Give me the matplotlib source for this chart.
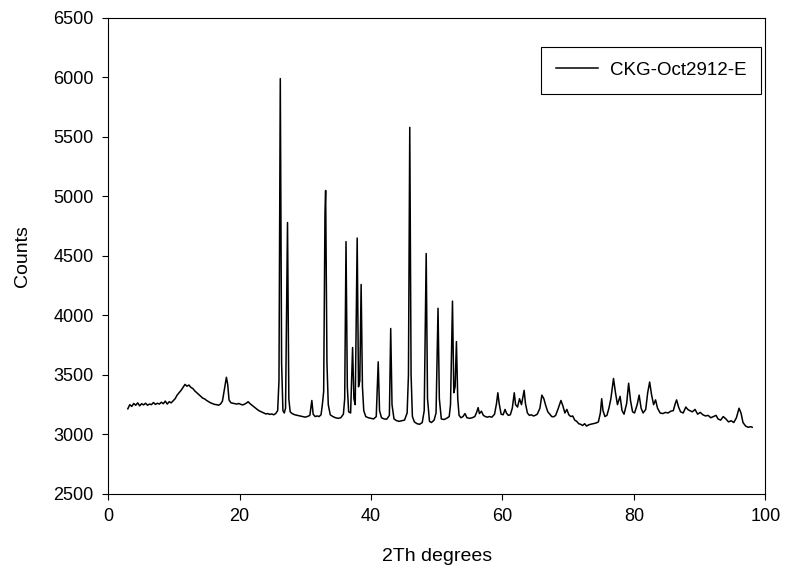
import matplotlib
matplotlib.use("Agg")
import matplotlib.pyplot as plt

plt.rcParams['font.family'] = ['Liberation Sans', 'DejaVu Sans']

# XRD scan (2-theta, counts)
two_theta = [
    3.0, 3.3, 3.6, 3.9, 4.2, 4.5, 4.8, 5.1, 5.4, 5.7, 6.0, 6.3, 6.6, 6.9, 7.2, 7.5, 7.8, 8.1, 8.4, 8.7,
    9.0, 9.3, 9.6, 9.9, 10.2, 10.5, 10.8, 11.1, 11.4, 11.7, 12.0, 12.3, 12.6, 12.9, 13.2, 13.5, 13.8,
    14.1, 14.4, 14.7, 15.0, 15.3, 15.6, 15.9, 16.2, 16.5, 16.8, 17.1, 17.4, 17.7, 18.0, 18.2, 18.4,
    18.7, 19.0, 19.3, 19.6, 19.9, 20.2, 20.5, 20.8, 21.1, 21.3, 21.6, 21.9, 22.2, 22.5, 22.8, 23.1,
    23.4, 23.7, 24.0, 24.3, 24.6, 24.9, 25.2, 25.5, 25.8, 26.0, 26.2, 26.4, 26.6, 26.8, 27.0, 27.3,
    27.5, 27.7, 28.0, 28.4, 28.8, 29.2, 29.6, 30.0, 30.4, 30.7, 31.0, 31.2, 31.5, 31.8, 32.1, 32.4,
    32.6, 32.8, 33.0, 33.1, 33.3, 33.5, 33.8, 34.2, 34.6, 35.0, 35.4, 35.8, 36.0, 36.2, 36.4, 36.6,
    36.9, 37.2, 37.4, 37.6, 37.9, 38.1, 38.3, 38.5, 38.7, 38.9, 39.2, 39.6, 40.0, 40.4, 40.8, 41.1,
    41.3, 41.6, 42.0, 42.4, 42.8, 43.0, 43.2, 43.5, 43.9, 44.3, 44.7, 45.1, 45.5, 45.7, 45.9, 46.1,
    46.3, 46.6, 47.0, 47.4, 47.8, 48.1, 48.4, 48.6, 48.9, 49.2, 49.6, 49.9, 50.2, 50.4, 50.7, 51.1,
    51.5, 51.9, 52.1, 52.4, 52.6, 52.8, 53.0, 53.2, 53.4, 53.7, 54.0, 54.3, 54.6, 55.0, 55.4, 55.8,
    56.1, 56.3, 56.5, 56.8, 57.1, 57.4, 57.7, 58.0, 58.4, 58.8, 59.1, 59.3, 59.5, 59.8, 60.1, 60.4,
    60.6, 60.9, 61.2, 61.5, 61.8, 62.0, 62.3, 62.6, 62.9, 63.3, 63.5, 63.8, 64.1, 64.4, 64.7, 65.0,
    65.3, 65.7, 66.0, 66.3, 66.6, 66.9, 67.2, 67.5, 67.8, 68.1, 68.5, 68.9, 69.2, 69.5, 69.8, 70.1,
    70.4, 70.7, 71.0, 71.3, 71.6, 71.9, 72.2, 72.5, 72.8, 73.1, 73.4, 73.8, 74.2, 74.6, 74.9, 75.1,
    75.3, 75.6, 75.9, 76.2, 76.5, 76.9, 77.2, 77.5, 77.9, 78.2, 78.5, 78.9, 79.2, 79.5, 79.8, 80.1,
    80.5, 80.8, 81.1, 81.4, 81.8, 82.1, 82.4, 82.7, 83.0, 83.3, 83.6, 84.0, 84.4, 84.8, 85.2, 85.6,
    86.0, 86.3, 86.5, 86.8, 87.1, 87.5, 87.9, 88.2, 88.5, 88.9, 89.3, 89.7, 90.1, 90.5, 90.9, 91.3,
    91.7, 92.1, 92.5, 92.8, 93.2, 93.6, 94.0, 94.4, 94.8, 95.2, 95.6, 96.0, 96.3, 96.6, 97.0, 97.4,
    97.8, 98.0,
]
counts = [
    3215, 3250, 3235, 3260, 3245, 3265, 3240, 3258, 3248, 3262, 3245, 3255, 3250, 3268, 3252, 3262, 3255, 3270, 3258, 3280,
    3255, 3275, 3265, 3282, 3300, 3330, 3350, 3370, 3395, 3420, 3405, 3415, 3395, 3385, 3365, 3350, 3335,
    3320, 3305, 3298, 3285, 3275, 3265, 3258, 3252, 3250, 3245, 3255, 3280, 3380, 3480, 3420, 3290,
    3265, 3262, 3258, 3255, 3260, 3252, 3248, 3255, 3265, 3275, 3258, 3245, 3232, 3220, 3205, 3195,
    3188, 3180, 3172, 3175, 3168, 3172, 3165, 3175, 3200, 3450, 5990, 3600, 3200, 3180, 3220, 4780,
    3300, 3190, 3175, 3165, 3160, 3155, 3150, 3145, 3152, 3160, 3285, 3170, 3150, 3155, 3150, 3165,
    3250, 3360, 4860, 5050, 3600, 3250, 3165, 3150, 3140, 3135, 3140, 3170, 3300, 4620, 3400, 3190,
    3180, 3730, 3300, 3250, 4650, 3400, 3450, 4260, 3400, 3200, 3150, 3140, 3135, 3130, 3150, 3610,
    3200, 3140, 3130, 3128, 3160, 3890, 3250, 3130, 3115, 3110, 3115, 3120, 3180, 3500, 5580, 3500,
    3150, 3105, 3090, 3085, 3100, 3200, 4520, 3300, 3110, 3100, 3120, 3180, 4060, 3300, 3130, 3125,
    3135, 3150, 3250, 4120, 3350, 3400, 3780, 3300, 3160, 3140, 3150, 3175, 3140, 3135, 3140, 3150,
    3190, 3225, 3175, 3195, 3160, 3150, 3145, 3150, 3145, 3170, 3260, 3350, 3260, 3170, 3165, 3210,
    3180, 3160, 3165, 3220, 3350, 3250, 3230, 3300, 3250, 3370, 3260, 3180, 3160, 3165, 3155, 3160,
    3170, 3220, 3330, 3300, 3240, 3190, 3170, 3150, 3148, 3160, 3220, 3285, 3240, 3180, 3210, 3165,
    3150, 3155, 3120, 3110, 3090, 3085, 3075, 3090, 3070, 3080, 3085, 3090, 3095, 3105, 3180, 3300,
    3200, 3150, 3160, 3220, 3300, 3470, 3350, 3250, 3320, 3200, 3170, 3260, 3430, 3280, 3190, 3180,
    3250, 3330, 3220, 3180, 3210, 3350, 3440, 3330, 3250, 3290, 3220, 3180, 3175, 3185, 3180, 3195,
    3200, 3260, 3290, 3230, 3190, 3180, 3230, 3210, 3200, 3190, 3210, 3170, 3185, 3165, 3155, 3160,
    3140, 3150, 3160, 3130, 3120, 3150, 3130, 3105, 3115, 3100, 3140, 3220, 3180, 3100, 3070, 3060,
    3065, 3060,
]
x_ticks = [0, 20, 40, 60, 80, 100]
y_ticks = [2500, 3000, 3500, 4000, 4500, 5000, 5500, 6000, 6500]

fig = plt.figure(figsize=(7.89, 5.77), dpi=100)
ax = fig.add_axes([0.137, 0.144, 0.833, 0.825])

ax.plot(two_theta, counts, color='black', linewidth=1.1, label='CKG-Oct2912-E')

ax.set_xlim(0, 100)
ax.set_ylim(2500, 6500)
ax.set_xticks(x_ticks)
ax.set_yticks(y_ticks)
ax.tick_params(direction='out', length=4.5, pad=6, labelsize=13, top=False, right=False)
ax.set_xlabel('2Th degrees', fontsize=14, labelpad=16)
ax.set_ylabel('Counts', fontsize=14, labelpad=16)

leg = ax.legend(loc='upper right', bbox_to_anchor=(0.994, 0.939), borderaxespad=0,
                fontsize=13.5, fancybox=False, edgecolor='black', framealpha=1,
                handlelength=2.2, handletextpad=0.65, borderpad=0.8)
leg.get_frame().set_linewidth(0.8)

plt.savefig('out.png', dpi=100)
